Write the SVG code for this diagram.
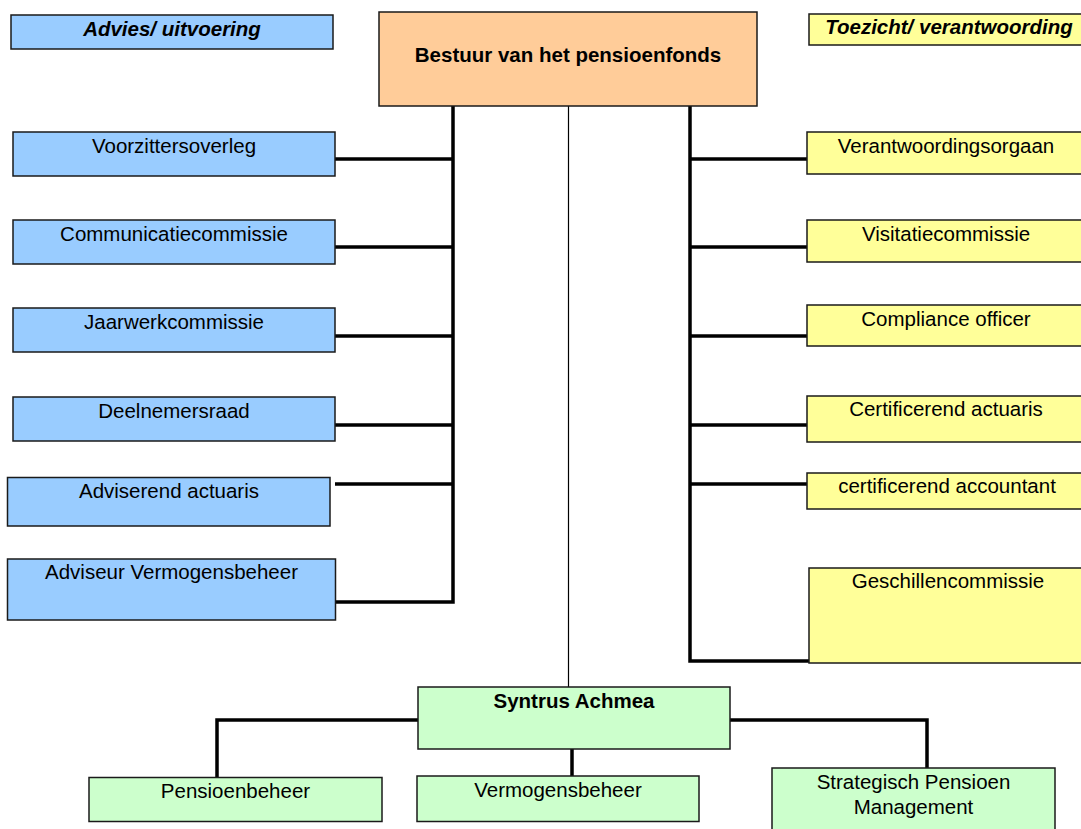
<svg xmlns="http://www.w3.org/2000/svg" width="1081" height="829" viewBox="0 0 1081 829">
<style>
  .box { stroke: #1a1a1a; stroke-width: 1.5; }
  .blue { fill: #99CCFF; }
  .orange { fill: #FFCC99; }
  .yellow { fill: #FFFF99; }
  .green { fill: #CCFFCC; }
  text { font-family: "Liberation Sans", Arial, sans-serif; font-size: 20.5px; fill: #000; text-anchor: middle; }
  .b { font-weight: bold; }
  .bi { font-weight: bold; font-style: italic; }
  .conn { fill: none; stroke: #000; stroke-width: 3.5; }
  .thin { fill: none; stroke: #000; stroke-width: 1.2; }
</style>
<rect width="1081" height="829" fill="#fff"/>
<g id="connectors">
  <line class="thin" x1="568.5" y1="104" x2="568.5" y2="688"/>
  <polyline class="conn" points="453,106 453,602 335,602"/>
  <line class="conn" x1="335" y1="159" x2="453" y2="159"/>
  <line class="conn" x1="335" y1="247" x2="453" y2="247"/>
  <line class="conn" x1="335" y1="336" x2="453" y2="336"/>
  <line class="conn" x1="335" y1="425" x2="453" y2="425"/>
  <line class="conn" x1="335" y1="484" x2="453" y2="484"/>
  <polyline class="conn" points="690,106 690,661 809,661"/>
  <line class="conn" x1="690" y1="159" x2="807" y2="159"/>
  <line class="conn" x1="690" y1="247" x2="807" y2="247"/>
  <line class="conn" x1="690" y1="336" x2="807" y2="336"/>
  <line class="conn" x1="690" y1="425" x2="807" y2="425"/>
  <line class="conn" x1="690" y1="484" x2="807" y2="484"/>
  <polyline class="conn" points="418,720 217,720 217,777"/>
  <line class="conn" x1="572" y1="749" x2="572" y2="776"/>
  <polyline class="conn" points="730,720 927,720 927,768"/>
</g>
<g id="advies"><rect class="box blue" x="11" y="15" width="322" height="34"/><text class="bi" x="172" y="36">Advies/ uitvoering</text></g>
<g id="bestuur"><rect class="box orange" x="379" y="12" width="378" height="94"/><text class="b" x="568" y="62">Bestuur van het pensioenfonds</text></g>
<g id="toezicht"><rect class="box yellow" x="809" y="14" width="280" height="31"/><text class="bi" x="949" y="34">Toezicht/ verantwoording</text></g>

<g id="voorzittersoverleg"><rect class="box blue" x="13" y="132" width="322" height="44"/><text x="174" y="153">Voorzittersoverleg</text></g>
<g id="communicatiecommissie"><rect class="box blue" x="13" y="220" width="322" height="44"/><text x="174" y="241">Communicatiecommissie</text></g>
<g id="jaarwerkcommissie"><rect class="box blue" x="13" y="308" width="322" height="44"/><text x="174" y="329">Jaarwerkcommissie</text></g>
<g id="deelnemersraad"><rect class="box blue" x="13" y="397" width="322" height="44"/><text x="174" y="418">Deelnemersraad</text></g>
<g id="adviserend-actuaris"><rect class="box blue" x="7.5" y="477.5" width="322.5" height="48.5"/><text x="169" y="498">Adviserend actuaris</text></g>
<g id="adviseur-vermogensbeheer"><rect class="box blue" x="7.5" y="559" width="328" height="61"/><text x="171.5" y="579">Adviseur Vermogensbeheer</text></g>

<g id="verantwoordingsorgaan"><rect class="box yellow" x="807" y="132" width="280" height="42"/><text x="946" y="153">Verantwoordingsorgaan</text></g>
<g id="visitatiecommissie"><rect class="box yellow" x="807" y="220" width="280" height="42"/><text x="946" y="241">Visitatiecommissie</text></g>
<g id="compliance-officer"><rect class="box yellow" x="807" y="305" width="280" height="41"/><text x="946" y="326">Compliance officer</text></g>
<g id="certificerend-actuaris"><rect class="box yellow" x="807" y="396" width="280" height="46"/><text x="946" y="416">Certificerend actuaris</text></g>
<g id="certificerend-accountant"><rect class="box yellow" x="807" y="473" width="280" height="36"/><text x="947" y="493">certificerend accountant</text></g>
<g id="geschillencommissie"><rect class="box yellow" x="809" y="568" width="280" height="95"/><text x="948" y="588">Geschillencommissie</text></g>

<g id="syntrus-achmea"><rect class="box green" x="418" y="687" width="312" height="62"/><text class="b" x="574" y="708">Syntrus Achmea</text></g>
<g id="pensioenbeheer"><rect class="box green" x="89" y="777.5" width="293" height="44"/><text x="235.5" y="798">Pensioenbeheer</text></g>
<g id="vermogensbeheer"><rect class="box green" x="417" y="776" width="282" height="45.5"/><text x="558" y="797">Vermogensbeheer</text></g>
<g id="strategisch-pensioen-management"><rect class="box green" x="772" y="768" width="283" height="70"/><text x="913.5" y="789">Strategisch Pensioen</text><text x="913.5" y="814">Management</text></g>
</svg>
